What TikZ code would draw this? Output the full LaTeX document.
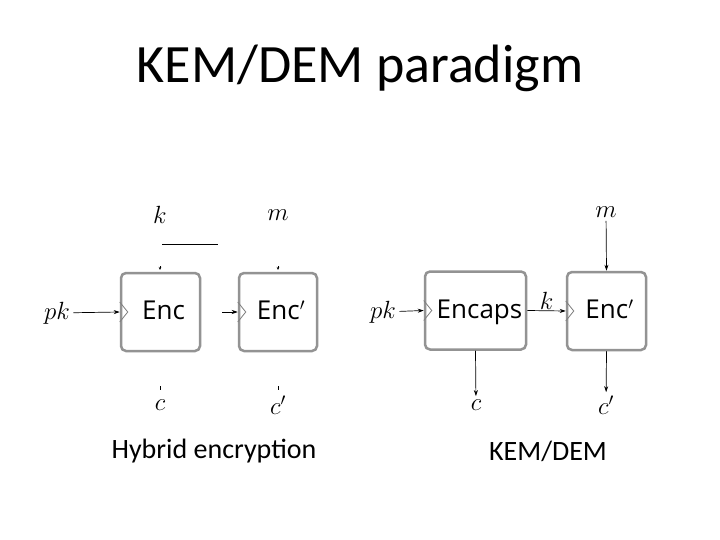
\documentclass[tikz,border=0pt]{standalone}
\usepackage{fontspec}
\setmainfont{Carlito}
\newfontfamily\boxfont{Open Sans}
\usetikzlibrary{arrows.meta}
\begin{document}
\begin{tikzpicture}[x=1pt,y=-1pt,
  blk/.style={draw=gray!85,line width=2.5pt,rounded corners=5pt,minimum width=#1,minimum height=78pt,font=\boxfont\fontsize{26}{30}\selectfont,inner sep=0pt,text height=18pt,text depth=3pt},
  arr/.style={-{Stealth[length=6pt,width=4pt]},line width=0.7pt},
  tiny/.style={-{Stealth[length=3pt,width=2.5pt]},line width=0.4pt},
  lab/.style={font=\fontsize{26}{30}\selectfont},
  captxt/.style={font=\fontsize{28}{32}\selectfont}]
\useasboundingbox (0,0) rectangle (720,540);
\fill[white] (0,0) rectangle (720,540);
\node[font=\fontsize{54}{60}\selectfont] (title) at (360,68) {KEM/DEM paradigm};
% left
\node[blk=79pt] (enc) at (160.5,312) {\hspace*{6pt}Enc};
\node[blk=78pt] (encp) at (278,312) {\hspace*{6pt}Enc$'$};
\foreach \b in {enc,encp}{\draw[gray,line width=0.8pt] ([yshift=10pt]\b.west) -- ++(8,10) -- ++(-8,10);}
\node[lab] (k1) at (160,215) {$k$};
\node[lab] (m1) at (278,215) {$m$};
\node[lab] (pk1) at (57,313) {$pk$};
\node[lab] (c1) at (160,405) {$c$};
\node[lab] (cp1) at (278,405) {$c'$};
\coordinate (hl1) at (162,244); \coordinate (hl2) at (218,244);
\draw[line width=0.6pt] (hl1) -- (hl2);
\coordinate (t1) at (160,266); \coordinate (t2) at (278,266);
\draw[tiny] (t1) -- ++(0,4);
\draw[tiny] (t2) -- ++(0,4);
\coordinate (b1) at (160,386); \coordinate (b2) at (278,386);
\draw[line width=0.5pt] (b1) -- ++(0,4);
\draw[line width=0.5pt] (b2) -- ++(0,4);
\draw[arr] (pk1) -- (enc.west);
\coordinate (s1) at (222,312);
\draw[arr] (s1) -- (encp.west);
\node[captxt] (cap1) at (214,451) {Hybrid encryption};
% right
\node[blk=101pt] (encaps) at (475.5,310.5) {\hspace*{8pt}Encaps};
\node[blk=79pt] (encp2) at (606.5,311) {\hspace*{6pt}Enc$'$};
\foreach \b in {encaps,encp2}{\draw[gray,line width=0.8pt] ([yshift=10pt]\b.west) -- ++(8,10) -- ++(-8,10);}
\node[lab] (pk2) at (383,312) {$pk$};
\node[lab] (m2) at (606,212) {$m$};
\node[lab] (c2) at (476,405) {$c$};
\node[lab] (cp2) at (606,405) {$c'$};
\draw[arr] (pk2) -- (encaps.west);
\draw[arr] (encaps.east) -- node[above,lab,inner sep=1pt]{$k$} (encp2.west);
\draw[arr] (m2) -- (encp2.north);
\draw[arr] (encaps.south) -- (c2);
\draw[arr] (encp2.south) -- (cp2);
\node[captxt] (cap2) at (548,451) {KEM/DEM};
\end{tikzpicture}
\end{document}
